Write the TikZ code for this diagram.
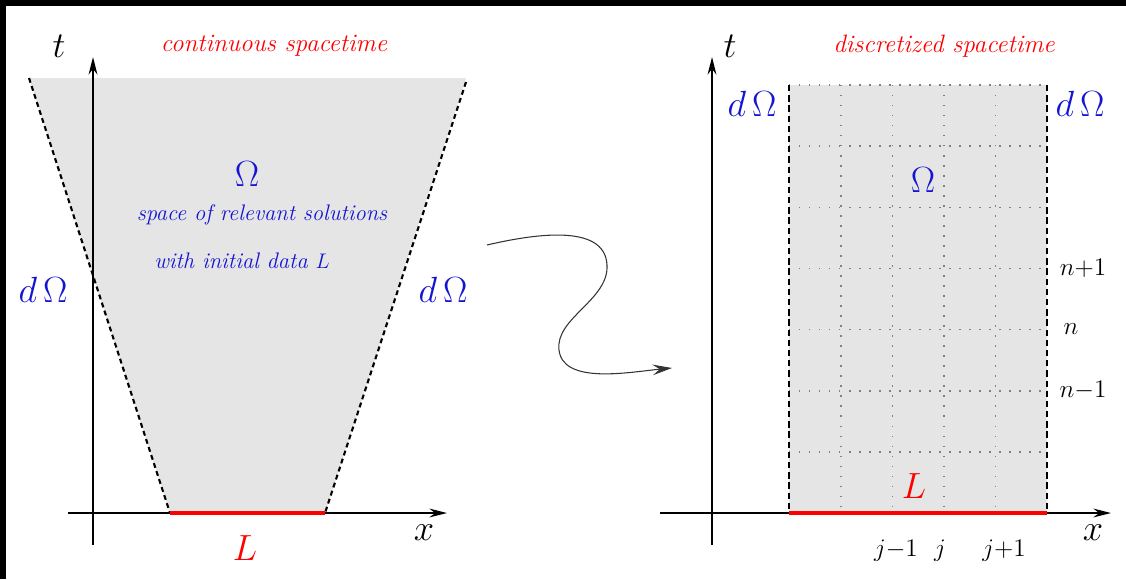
\documentclass[tikz,border=0pt]{standalone}
\usetikzlibrary{arrows.meta}
\definecolor{omegablue}{RGB}{20,20,210}
\definecolor{regiongray}{RGB}{229,229,229}
\tikzset{
  axis/.style={line width=1.2pt,-{Stealth[length=10pt,width=5pt]}},
  boundary/.style={line width=1.2pt,dash pattern=on 2.8pt off 2pt},
  gridline/.style={line width=0.9pt,black!50,dash pattern=on 0.8pt off 4.9pt},
  initdata/.style={red,line width=2.4pt},
  spacetitle/.style={red,font=\fontsize{14.3}{17}\selectfont\itshape},
  regiontext/.style={omegablue,font=\fontsize{12.8}{15}\selectfont\itshape},
  bigsym/.style={font=\fontsize{20}{22}\selectfont},
  index/.style={font=\fontsize{15}{17}\selectfont},
}

\begin{document}
\begin{tikzpicture}[x=0.02cm,y=-0.02cm]
  \fill[black] (0,0) rectangle (1126,579);
  \fill[white] (6,6) rectangle (1126,579);

  % continuous spacetime
  \fill[regiongray] (29,78) -- (466,78) -- (325,513) -- (170,513) -- cycle;
  \coordinate (lt0) at (93,545);
  \coordinate (lt1) at (93,57);
  \coordinate (lx0) at (68,513);
  \coordinate (lx1) at (447,513);
  \coordinate (lbl) at (29,78);
  \coordinate (lbr) at (466,82);
  \coordinate (la) at (170,513);
  \coordinate (lb) at (325,513);
  \draw[boundary] (lbl) -- (la);
  \draw[boundary] (lbr) -- (lb);
  \draw[axis] (lt0) -- (lt1);
  \draw[axis] (lx0) -- (lx1);
  \draw[initdata] (la) -- (lb);
  \node[bigsym] (tl) at (59,46) {$t$};
  \node[bigsym] (xl) at (424,533) {$x$};
  \node[spacetitle] (ctitle) at (274,46) {continuous spacetime};
  \node[bigsym,omegablue] (omegal) at (247,174) {$\Omega$};
  \node[regiontext] (solutions) at (262,215) {space of relevant solutions};
  \node[regiontext] (initial) at (242,261) {with initial data $L$};
  \node[bigsym,omegablue] (dol) at (43,290) {$d\,\Omega$};
  \node[bigsym,omegablue] (dor) at (443,290) {$d\,\Omega$};
  \node[bigsym,red] (ll) at (245,548) {$L$};

  % discretization arrow
  \coordinate (wa) at (487,245);
  \coordinate (wb) at (672,368);
  \draw[line width=0.6pt,black!80,-{Stealth[length=11pt,width=6pt,inset=4pt]}] (wa)
    .. controls (530,235) and (605,222) .. (607,265)
    .. controls (609,300) and (555,318) .. (559,350)
    .. controls (563,385) and (630,372) .. (wb);

  % discretized spacetime
  \fill[regiongray] (789,85) rectangle (1047,513);
  \foreach \y in {146.1,207.3,268.4,329.6,390.7,451.9}
    \draw[gridline] (789,\y) -- (1047,\y);
  \foreach \x in {840.7,892.3,944,995.6}
    \draw[gridline] (\x,85) -- (\x,513);
  \coordinate (ra) at (789,513);
  \coordinate (rb) at (1047,513);
  \coordinate (rc) at (1047,85);
  \coordinate (rd) at (789,85);
  \draw[gridline] (rd) -- (rc);
  \draw[boundary,dash pattern=on 3.6pt off 2.2pt] (rd) -- (ra);
  \draw[boundary,dash pattern=on 3.6pt off 2.2pt] (rc) -- (rb);
  \coordinate (rt0) at (712,545);
  \coordinate (rt1) at (712,57);
  \coordinate (rx0) at (660,513);
  \coordinate (rx1) at (1111,513);
  \draw[axis] (rt0) -- (rt1);
  \draw[axis] (rx0) -- (rx1);
  \draw[initdata] (ra) -- (rb);
  \node[bigsym] (tr) at (730,46) {$t$};
  \node[bigsym] (xr) at (1093,533) {$x$};
  \node[spacetitle] (dtitle) at (944,46) {discretized spacetime};
  \node[bigsym,omegablue] (dl) at (752,104) {$d\,\Omega$};
  \node[bigsym,omegablue] (dr) at (1080,104) {$d\,\Omega$};
  \node[bigsym,omegablue] (omegar) at (923,180) {$\Omega$};
  \node[bigsym,red] (lr) at (914,486) {$L$};
  \node[index] (np) at (1083,268) {$n{+}1$};
  \node[index] (nn) at (1071,329) {$n$};
  \node[index] (nm) at (1083,390) {$n{-}1$};
  \node[index] (jm) at (896,551) {$j{-}1$};
  \node[index] (jj) at (940,551) {$j$};
  \node[index] (jp) at (1004,551) {$j{+}1$};
\end{tikzpicture}
\end{document}
